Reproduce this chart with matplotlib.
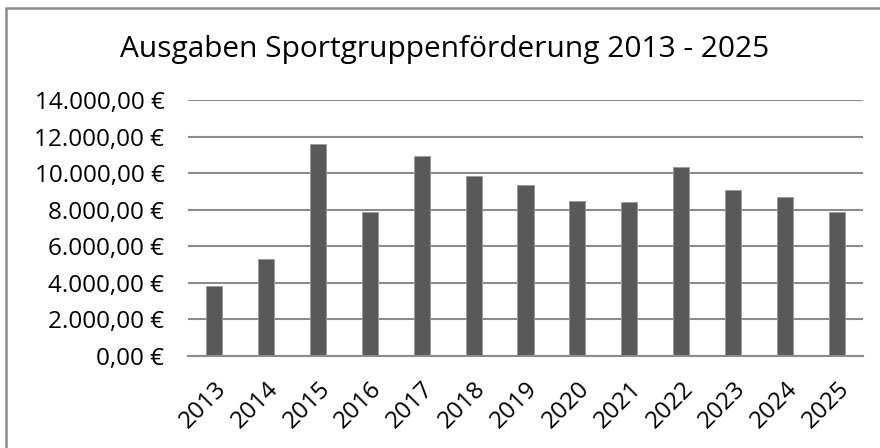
import matplotlib
matplotlib.use("Agg")
import matplotlib.pyplot as plt
from matplotlib.patches import Rectangle
from matplotlib.ticker import FuncFormatter

plt.rcParams['font.family'] = ['Open Sans', 'DejaVu Sans']

years = ['2013', '2014', '2015', '2016', '2017', '2018', '2019',
         '2020', '2021', '2022', '2023', '2024', '2025']
ausgaben = [3850, 5320, 11580, 7890, 10920, 9830, 9330,
            8480, 8440, 10340, 9080, 8680, 7870]

grid_col = '#8c8c8c'


def euro(v, pos):
    s = f'{v:,.2f}'.replace(',', 'X').replace('.', ',').replace('X', '.')
    return s + ' €'


fig = plt.figure(figsize=(8.8, 4.48), dpi=100)
ax = fig.add_axes([188 / 880, 1 - 356 / 448, (863 - 188) / 880, 256 / 448])

x = range(len(years))
ax.bar(x, ausgaben, width=0.31, color='#595959', edgecolor='#9a9a9a',
       linewidth=0.6, zorder=3)

ax.set_ylim(0, 14000)
ax.set_xlim(-0.5, len(years) - 0.5)
ax.set_yticks(range(0, 14001, 2000))
ax.yaxis.set_major_formatter(FuncFormatter(euro))
ax.set_xticks(list(x))
ax.set_xticklabels(years, rotation=45, ha='right', va='top',
                   rotation_mode='anchor')
ax.tick_params(axis='both', length=0, labelsize=17.5, colors='black')
ax.tick_params(axis='y', pad=17)
ax.tick_params(axis='x', pad=15)

ax.yaxis.grid(True, color=grid_col, linewidth=1.5, zorder=0)
for s in ['left', 'right', 'top']:
    ax.spines[s].set_visible(False)
ax.spines['bottom'].set_color(grid_col)
ax.spines['bottom'].set_linewidth(1.5)
ax.spines['bottom'].set_zorder(4)

fig.text(445 / 880, 1 - 49 / 448, 'Ausgaben Sportgruppenförderung 2013 - 2025',
         ha='center', va='center', fontsize=21.5)

# Rahmen um das Diagramm (rechts und unten abgeschnitten)
fig.patches.append(Rectangle((5.5 / 880, -0.1), 1.2, 1.1 - 8.5 / 448,
                             transform=fig.transFigure, fill=False,
                             edgecolor=grid_col, linewidth=1.8))

fig.savefig('out.png', dpi=100)
